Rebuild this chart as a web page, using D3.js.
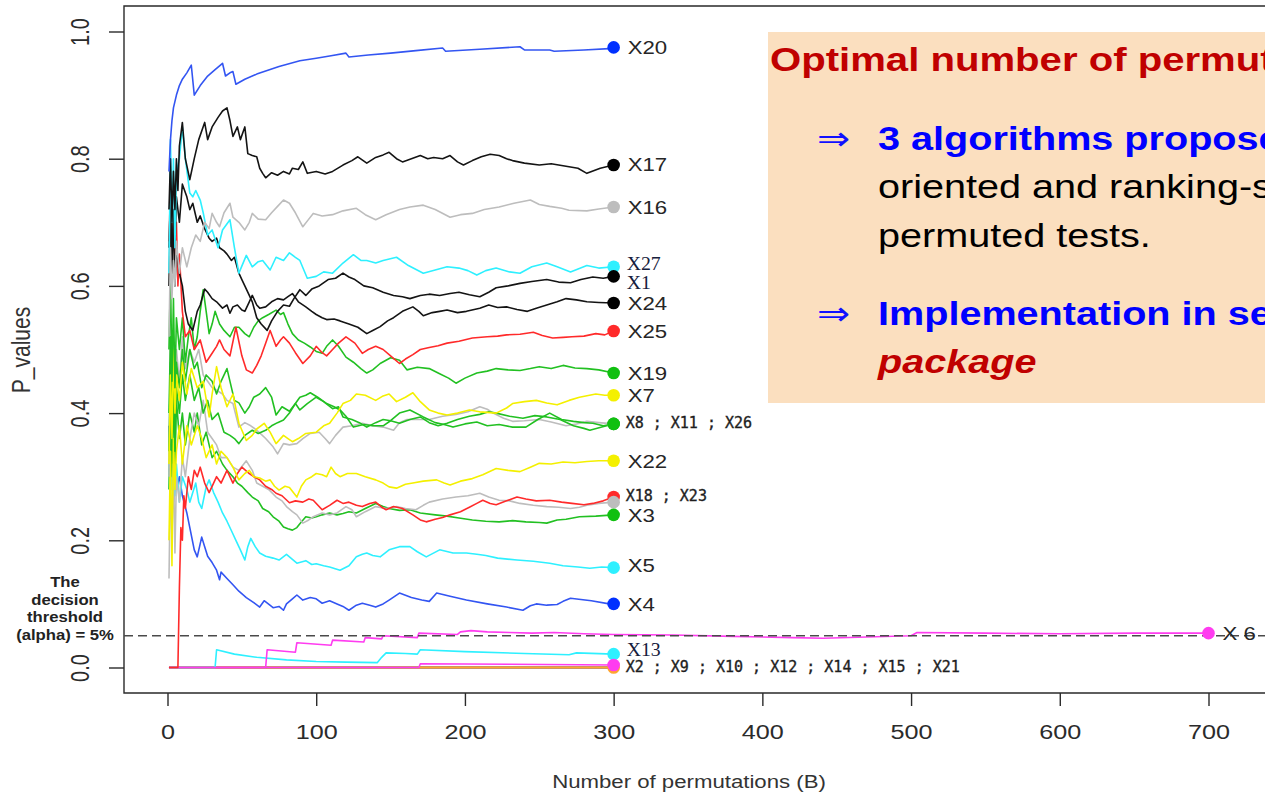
<!doctype html>
<html>
<head>
<meta charset="utf-8">
<script src="https://cdn.jsdelivr.net/npm/d3@7"></script>
<style>
body { margin: 0; background: #fff; overflow: hidden; }
svg { display: block; }
text { font-family: "Liberation Sans", Arial, sans-serif; }
</style>
</head>
<body>
<svg id="chart" width="1265" height="794"></svg>
<script>
// axis ticks
var xTicks = [0, 100, 200, 300, 400, 500, 600, 700];
var yTicks = [0, 0.2, 0.4, 0.6, 0.8, 1.0];
var threshold = 0.05;

// p-value paths, [B, p]
var pX20 = [[1,0.78],[2,0.83],[3,0.86],[4,0.88],[6,0.90],[8,0.915],[10,0.925],[13,0.935],[16,0.947],[18,0.90],[22,0.915],[27,0.93],[32,0.94],[37,0.95],[39,0.93],[42,0.935],[44,0.937],[46,0.917],[52,0.925],[60,0.933],[66,0.938],[75,0.945],[89,0.954],[100,0.958],[110,0.962],[120,0.966],[122,0.96],[135,0.963],[150,0.966],[167,0.970],[185,0.974],[187,0.969],[210,0.972],[237,0.976],[240,0.971],[257,0.971],[260,0.969],[280,0.971],[297,0.973],[300,0.975]];
var pX17 = [[1,0.72],[2,0.80],[3,0.70],[4,0.78],[5,0.72],[6,0.80],[7,0.75],[8,0.82],[10,0.857],[12,0.80],[15,0.767],[18,0.80],[21,0.83],[25,0.857],[27,0.83],[30,0.85],[34,0.865],[37,0.875],[40,0.88],[42,0.86],[44,0.835],[47,0.85],[49,0.83],[52,0.85],[54,0.808],[57,0.805],[60,0.803],[62,0.785],[64,0.777],[66,0.77],[70,0.778],[74,0.774],[78,0.78],[82,0.776],[84,0.785],[88,0.783],[91,0.795],[94,0.777],[100,0.78],[106,0.776],[111,0.78],[118,0.79],[124,0.797],[128,0.803],[134,0.793],[140,0.802],[145,0.806],[149,0.81],[154,0.80],[158,0.795],[164,0.80],[170,0.805],[175,0.80],[179,0.802],[185,0.80],[190,0.805],[195,0.795],[199,0.79],[205,0.797],[211,0.803],[217,0.807],[223,0.805],[228,0.80],[232,0.797],[240,0.793],[250,0.79],[258,0.792],[268,0.788],[276,0.785],[282,0.777],[291,0.785],[300,0.79]];
var pX16 = [[1,0.52],[2,0.66],[3,0.58],[4,0.64],[5,0.60],[6,0.67],[8,0.62],[10,0.66],[13,0.63],[16,0.66],[19,0.68],[22,0.67],[25,0.70],[28,0.69],[30,0.714],[33,0.70],[35,0.693],[38,0.715],[42,0.73],[44,0.708],[48,0.70],[52,0.688],[55,0.70],[57,0.714],[61,0.705],[66,0.704],[70,0.715],[74,0.725],[78,0.735],[82,0.73],[86,0.715],[91,0.693],[95,0.705],[98,0.714],[104,0.71],[111,0.712],[118,0.718],[127,0.722],[133,0.712],[140,0.704],[147,0.712],[156,0.72],[163,0.724],[172,0.727],[180,0.72],[190,0.708],[197,0.712],[205,0.714],[213,0.72],[223,0.724],[233,0.73],[244,0.735],[250,0.728],[257,0.725],[265,0.722],[270,0.719],[282,0.718],[290,0.721],[300,0.724]];
var pX27 = [[1,0.62],[2,0.83],[3,0.70],[4,0.80],[5,0.66],[6,0.78],[8,0.80],[10,0.85],[12,0.80],[15,0.746],[17,0.74],[19,0.75],[22,0.735],[24,0.715],[27,0.68],[30,0.688],[34,0.66],[37,0.688],[42,0.704],[45,0.66],[48,0.62],[53,0.648],[57,0.63],[61,0.638],[64,0.64],[69,0.625],[73,0.645],[78,0.64],[82,0.652],[86,0.645],[89,0.64],[94,0.612],[100,0.615],[105,0.622],[111,0.62],[118,0.636],[125,0.649],[130,0.64],[134,0.64],[140,0.636],[145,0.64],[154,0.645],[162,0.632],[172,0.62],[180,0.625],[188,0.63],[196,0.628],[202,0.624],[208,0.617],[214,0.624],[221,0.628],[230,0.622],[237,0.62],[245,0.63],[255,0.636],[262,0.63],[271,0.622],[282,0.632],[290,0.628],[300,0.63]];
var pX1 = [[1,0.66],[2,0.74],[3,0.62],[4,0.72],[5,0.66],[6,0.74],[8,0.70],[10,0.76],[13,0.74],[15,0.72],[17,0.73],[20,0.70],[22,0.71],[25,0.69],[28,0.675],[30,0.67],[33,0.675],[35,0.66],[38,0.655],[40,0.65],[43,0.64],[45,0.645],[48,0.62],[50,0.61],[52,0.60],[55,0.585],[57,0.575],[60,0.55],[63,0.54],[67,0.53],[70,0.545],[74,0.56],[78,0.57],[82,0.568],[85,0.58],[89,0.594],[93,0.585],[97,0.595],[102,0.60],[108,0.61],[113,0.612],[118,0.62],[122,0.614],[126,0.61],[132,0.60],[138,0.597],[145,0.59],[152,0.585],[158,0.583],[163,0.58],[170,0.585],[176,0.587],[183,0.585],[190,0.588],[196,0.59],[203,0.586],[210,0.583],[216,0.59],[221,0.597],[229,0.60],[237,0.604],[245,0.607],[255,0.61],[263,0.606],[271,0.605],[278,0.61],[286,0.614],[293,0.612],[300,0.615]];
var pX24 = [[1,0.60],[2,0.72],[3,0.64],[4,0.70],[5,0.60],[6,0.66],[8,0.62],[10,0.60],[12,0.56],[14,0.54],[17,0.53],[20,0.56],[22,0.57],[25,0.595],[27,0.59],[30,0.58],[33,0.575],[37,0.565],[40,0.57],[42,0.557],[44,0.567],[47,0.57],[50,0.562],[52,0.56],[55,0.575],[57,0.585],[60,0.57],[62,0.565],[66,0.567],[70,0.575],[74,0.58],[78,0.578],[81,0.583],[84,0.588],[88,0.575],[93,0.567],[97,0.56],[100,0.555],[104,0.55],[107,0.547],[112,0.548],[116,0.545],[122,0.54],[128,0.535],[134,0.525],[138,0.53],[143,0.536],[148,0.545],[152,0.55],[158,0.56],[165,0.567],[169,0.56],[172,0.553],[178,0.558],[183,0.56],[188,0.562],[195,0.558],[201,0.56],[210,0.565],[216,0.57],[222,0.566],[228,0.567],[235,0.563],[242,0.56],[248,0.565],[255,0.57],[262,0.575],[268,0.58],[275,0.578],[282,0.575],[290,0.574],[300,0.573]];
var pX25 = [[1,0.67],[2,0.75],[3,0.62],[4,0.72],[5,0.64],[6,0.70],[7,0.60],[8,0.65],[10,0.56],[12,0.52],[15,0.53],[18,0.50],[22,0.515],[26,0.48],[30,0.494],[33,0.505],[35,0.515],[38,0.50],[42,0.49],[46,0.535],[50,0.49],[53,0.468],[57,0.463],[60,0.475],[63,0.49],[66,0.51],[69,0.53],[73,0.505],[76,0.515],[78,0.52],[82,0.51],[86,0.495],[91,0.478],[96,0.49],[100,0.505],[104,0.495],[107,0.49],[111,0.50],[115,0.51],[120,0.52],[126,0.51],[131,0.494],[135,0.50],[140,0.505],[145,0.50],[150,0.49],[156,0.478],[160,0.485],[165,0.492],[170,0.50],[176,0.503],[182,0.506],[188,0.51],[196,0.513],[205,0.518],[215,0.52],[222,0.521],[228,0.523],[237,0.524],[246,0.527],[252,0.522],[259,0.518],[266,0.519],[272,0.52],[280,0.521],[288,0.525],[294,0.523],[300,0.529]];
var pX19 = [[1,0.50],[2,0.62],[3,0.45],[4,0.58],[5,0.44],[6,0.55],[8,0.50],[10,0.55],[12,0.48],[14,0.52],[16,0.55],[18,0.50],[20,0.52],[22,0.56],[24,0.594],[26,0.56],[28,0.525],[30,0.54],[32,0.56],[35,0.54],[38,0.53],[42,0.52],[45,0.535],[48,0.535],[52,0.525],[55,0.52],[58,0.535],[61,0.545],[64,0.55],[68,0.555],[73,0.562],[76,0.555],[78,0.558],[81,0.54],[84,0.525],[88,0.515],[92,0.51],[96,0.504],[100,0.497],[104,0.494],[107,0.505],[111,0.515],[115,0.505],[120,0.488],[125,0.48],[130,0.47],[134,0.463],[138,0.468],[143,0.478],[150,0.487],[156,0.483],[161,0.468],[168,0.472],[176,0.47],[183,0.462],[189,0.455],[194,0.447],[200,0.455],[208,0.463],[215,0.466],[221,0.47],[229,0.468],[237,0.467],[244,0.47],[250,0.473],[258,0.47],[266,0.475],[274,0.471],[282,0.47],[290,0.468],[300,0.463]];
var pX7 = [[1,0.32],[2,0.46],[3,0.36],[4,0.50],[5,0.40],[6,0.46],[8,0.42],[10,0.48],[13,0.43],[16,0.47],[20,0.44],[24,0.45],[28,0.394],[30,0.43],[33,0.473],[36,0.44],[40,0.41],[44,0.43],[48,0.384],[53,0.357],[57,0.365],[60,0.375],[65,0.384],[69,0.37],[73,0.352],[78,0.365],[81,0.36],[84,0.355],[88,0.36],[93,0.368],[100,0.37],[105,0.38],[109,0.384],[114,0.40],[118,0.415],[123,0.42],[127,0.43],[133,0.428],[140,0.42],[145,0.427],[149,0.43],[154,0.418],[160,0.425],[165,0.432],[170,0.418],[176,0.405],[182,0.40],[188,0.397],[195,0.40],[203,0.405],[210,0.402],[221,0.40],[228,0.408],[232,0.415],[240,0.418],[248,0.42],[255,0.416],[262,0.413],[270,0.42],[277,0.425],[288,0.43],[294,0.428],[300,0.428]];
var pX11 = [[1,0.40],[2,0.52],[3,0.36],[4,0.50],[5,0.40],[6,0.48],[8,0.44],[10,0.50],[12,0.45],[15,0.50],[18,0.47],[20,0.48],[23,0.44],[26,0.46],[30,0.45],[33,0.43],[36,0.45],[40,0.47],[43,0.44],[45,0.42],[48,0.416],[52,0.40],[55,0.41],[58,0.425],[62,0.43],[66,0.44],[70,0.425],[73,0.397],[77,0.41],[82,0.403],[86,0.415],[89,0.405],[94,0.415],[100,0.425],[105,0.418],[111,0.407],[115,0.41],[118,0.394],[124,0.39],[129,0.385],[134,0.378],[140,0.385],[145,0.39],[150,0.388],[156,0.384],[163,0.39],[170,0.394],[176,0.385],[182,0.38],[188,0.384],[195,0.39],[203,0.395],[210,0.398],[216,0.402],[221,0.40],[230,0.395],[239,0.392],[247,0.396],[255,0.394],[264,0.39],[273,0.38],[280,0.376],[284,0.373],[292,0.378],[300,0.383]];
var pX8 = [[1,0.34],[2,0.48],[3,0.38],[4,0.46],[5,0.34],[6,0.44],[8,0.40],[10,0.46],[12,0.42],[15,0.46],[18,0.42],[21,0.44],[24,0.40],[27,0.42],[30,0.39],[34,0.40],[38,0.37],[42,0.365],[45,0.36],[48,0.352],[52,0.365],[57,0.373],[61,0.368],[66,0.373],[70,0.38],[74,0.385],[78,0.389],[82,0.40],[86,0.415],[89,0.425],[93,0.428],[96,0.432],[101,0.425],[107,0.415],[112,0.41],[116,0.405],[120,0.395],[125,0.378],[132,0.382],[138,0.38],[145,0.38],[150,0.388],[156,0.40],[163,0.405],[172,0.394],[180,0.385],[186,0.382],[192,0.378],[200,0.383],[208,0.386],[215,0.38],[223,0.382],[232,0.378],[241,0.378],[249,0.39],[257,0.40],[265,0.39],[273,0.387],[280,0.385],[286,0.384],[293,0.38],[300,0.383]];
var pX26 = [[1,0.30],[2,0.55],[3,0.42],[4,0.52],[5,0.38],[6,0.50],[8,0.45],[10,0.52],[12,0.47],[15,0.50],[18,0.48],[21,0.50],[24,0.46],[27,0.45],[30,0.44],[33,0.436],[37,0.43],[40,0.42],[44,0.415],[48,0.378],[52,0.385],[56,0.38],[59,0.375],[62,0.369],[66,0.36],[71,0.347],[74,0.336],[78,0.352],[82,0.35],[87,0.352],[91,0.36],[96,0.368],[102,0.37],[106,0.36],[109,0.352],[113,0.365],[118,0.378],[124,0.38],[131,0.384],[138,0.38],[145,0.378],[152,0.373],[156,0.385],[161,0.39],[168,0.39],[176,0.39],[185,0.395],[194,0.398],[202,0.402],[210,0.41],[215,0.406],[219,0.40],[226,0.392],[232,0.387],[240,0.388],[250,0.39],[258,0.386],[268,0.38],[275,0.383],[282,0.387],[290,0.385],[300,0.383]];
var pX22 = [[1,0.20],[2,0.34],[3,0.16],[4,0.36],[5,0.28],[6,0.34],[8,0.38],[10,0.32],[13,0.38],[16,0.35],[20,0.38],[23,0.36],[26,0.33],[30,0.35],[33,0.32],[36,0.34],[40,0.33],[44,0.315],[48,0.295],[52,0.305],[55,0.31],[58,0.30],[62,0.298],[66,0.293],[69,0.295],[72,0.285],[75,0.279],[79,0.285],[82,0.283],[87,0.268],[90,0.285],[93,0.295],[97,0.30],[100,0.305],[104,0.303],[107,0.30],[110,0.315],[113,0.305],[116,0.30],[121,0.305],[127,0.305],[133,0.30],[140,0.295],[145,0.29],[149,0.284],[154,0.282],[160,0.288],[165,0.29],[172,0.293],[181,0.295],[186,0.29],[190,0.287],[197,0.293],[205,0.297],[212,0.303],[221,0.313],[229,0.31],[237,0.308],[244,0.315],[250,0.321],[258,0.32],[266,0.323],[274,0.322],[282,0.324],[290,0.325],[300,0.325]];
var pX18 = [[1,0],[7,0],[8,0.125],[9,0.22],[10,0.20],[11,0.27],[12,0.25],[14,0.30],[16,0.28],[18,0.31],[20,0.30],[22,0.315],[25,0.29],[28,0.275],[31,0.29],[33,0.30],[36,0.29],[40,0.31],[44,0.29],[47,0.305],[50,0.315],[55,0.305],[58,0.30],[62,0.295],[66,0.285],[70,0.28],[73,0.274],[77,0.27],[82,0.259],[86,0.262],[91,0.26],[95,0.265],[98,0.263],[104,0.248],[109,0.255],[114,0.263],[118,0.258],[122,0.26],[127,0.255],[131,0.253],[136,0.258],[140,0.26],[144,0.252],[147,0.248],[152,0.253],[158,0.25],[165,0.24],[170,0.232],[174,0.229],[180,0.233],[185,0.236],[190,0.24],[197,0.245],[203,0.252],[208,0.258],[212,0.263],[217,0.258],[221,0.256],[228,0.262],[235,0.268],[241,0.265],[248,0.262],[257,0.263],[265,0.26],[272,0.258],[280,0.256],[286,0.258],[293,0.262],[300,0.268]];
var pX23 = [[1,0.14],[2,0.30],[3,0.20],[4,0.32],[5,0.18],[6,0.30],[8,0.26],[10,0.33],[12,0.30],[15,0.36],[18,0.40],[21,0.38],[24,0.42],[27,0.37],[30,0.36],[33,0.35],[36,0.33],[40,0.33],[44,0.315],[48,0.31],[53,0.325],[57,0.31],[60,0.29],[64,0.285],[68,0.28],[73,0.268],[77,0.262],[80,0.253],[84,0.245],[87,0.24],[91,0.227],[95,0.232],[98,0.237],[104,0.243],[109,0.24],[114,0.243],[120,0.253],[124,0.248],[127,0.237],[133,0.245],[140,0.253],[147,0.25],[154,0.253],[160,0.25],[167,0.248],[172,0.255],[176,0.26],[185,0.265],[194,0.268],[202,0.27],[210,0.274],[216,0.268],[223,0.263],[230,0.262],[237,0.258],[246,0.255],[255,0.253],[263,0.252],[271,0.25],[277,0.252],[282,0.255],[290,0.258],[300,0.26]];
var pX3 = [[1,0.28],[2,0.42],[3,0.30],[4,0.44],[5,0.32],[6,0.42],[8,0.36],[10,0.40],[12,0.35],[15,0.40],[18,0.37],[20,0.40],[23,0.35],[26,0.37],[30,0.33],[33,0.34],[37,0.32],[40,0.31],[44,0.30],[47,0.29],[50,0.285],[54,0.275],[57,0.268],[61,0.262],[64,0.25],[68,0.245],[71,0.237],[75,0.23],[78,0.221],[81,0.218],[84,0.216],[87,0.22],[89,0.226],[93,0.237],[97,0.235],[100,0.237],[104,0.24],[109,0.243],[114,0.24],[118,0.242],[122,0.245],[127,0.243],[133,0.25],[140,0.258],[145,0.253],[149,0.25],[156,0.247],[163,0.248],[170,0.243],[180,0.24],[188,0.238],[196,0.235],[205,0.232],[214,0.23],[223,0.229],[232,0.231],[241,0.229],[250,0.228],[255,0.227],[262,0.232],[268,0.233],[277,0.237],[288,0.238],[300,0.24]];
var pX5 = [[1,0.30],[2,0.45],[3,0.28],[4,0.36],[5,0.27],[6,0.32],[8,0.26],[10,0.30],[13,0.28],[15,0.26],[17,0.275],[19,0.29],[21,0.26],[23,0.25],[26,0.284],[28,0.295],[31,0.275],[34,0.26],[37,0.243],[40,0.23],[43,0.215],[46,0.20],[49,0.185],[52,0.169],[54,0.19],[56,0.203],[59,0.19],[62,0.18],[66,0.175],[71,0.172],[75,0.169],[80,0.178],[84,0.17],[87,0.164],[93,0.168],[97,0.162],[100,0.163],[105,0.16],[109,0.158],[116,0.153],[122,0.16],[127,0.174],[131,0.178],[134,0.18],[138,0.176],[143,0.174],[149,0.185],[156,0.19],[163,0.19],[168,0.182],[174,0.174],[183,0.185],[192,0.18],[201,0.18],[208,0.178],[214,0.176],[222,0.172],[235,0.169],[246,0.167],[257,0.164],[266,0.16],[276,0.158],[284,0.156],[292,0.158],[300,0.157]];
var pX4 = [[1,0.38],[2,0.30],[3,0.34],[4,0.26],[5,0.32],[6,0.28],[8,0.30],[10,0.27],[13,0.243],[15,0.22],[18,0.185],[20,0.174],[23,0.205],[25,0.19],[27,0.175],[30,0.165],[33,0.153],[35,0.138],[36,0.15],[40,0.14],[44,0.13],[48,0.12],[53,0.11],[58,0.102],[62,0.095],[65,0.105],[71,0.094],[75,0.096],[78,0.09],[80,0.10],[84,0.108],[87,0.114],[91,0.106],[96,0.11],[100,0.108],[104,0.101],[109,0.105],[114,0.10],[118,0.096],[122,0.09],[127,0.098],[131,0.101],[136,0.098],[140,0.095],[145,0.10],[149,0.106],[156,0.117],[164,0.11],[171,0.106],[176,0.104],[181,0.117],[190,0.112],[201,0.106],[215,0.10],[228,0.095],[239,0.09],[244,0.097],[248,0.10],[255,0.098],[262,0.099],[266,0.104],[271,0.109],[285,0.105],[297,0.10],[300,0.10]];
var pX6 = [[1,0],[66,0],[67,0.028],[86,0.024],[87,0.039],[110,0.035],[111,0.043],[132,0.04],[133,0.047],[144,0.045],[145,0.05],[168,0.047],[169,0.054],[195,0.052],[197,0.056],[204,0.058],[215,0.056],[230,0.055],[245,0.054],[260,0.055],[280,0.053],[300,0.052],[340,0.051],[380,0.049],[420,0.047],[441,0.046],[470,0.048],[500,0.05],[504,0.055],[550,0.054],[600,0.053],[650,0.054],[700,0.054]];
var pX13 = [[1,0],[32,0],[33,0.028],[45,0.021],[60,0.016],[80,0.012],[100,0.0095],[120,0.0085],[141,0.0076],[144,0.016],[147,0.023],[160,0.022],[168,0.021],[170,0.028],[200,0.025],[240,0.022],[270,0.02],[275,0.023],[300,0.021]];
var pX14 = [[1,0],[169,0],[170,0.006],[230,0.005],[300,0.004]];
var pX21 = [[1,0],[300,0]];
var pX2 = [[1,0],[300,0]];
var pX9 = [[1,0],[300,0]];
var pX10 = [[1,0],[300,0]];
var pX12 = [[1,0],[300,0]];
var pX15 = [[1,0],[300,0]];

// end labels, keyed by the series whose last point they sit at
var labelKeys = ["X20", "X17", "X16", "X27", "X1", "X24", "X25", "X19", "X7", "X8", "X22", "X18", "X3", "X5", "X4", "X13", "X14", "X6"];
var labelTexts = ["X20", "X17", "X16", "X27", "X1", "X24", "X25", "X19", "X7", "X8 ; X11 ; X26", "X22", "X18 ; X23", "X3", "X5", "X4", "X13", "X2 ; X9 ; X10 ; X12 ; X14 ; X15 ; X21", "X 6"];

var seriesData = {
  X1: pX1, X2: pX2, X3: pX3, X4: pX4, X5: pX5, X6: pX6, X7: pX7, X8: pX8, X9: pX9,
  X10: pX10, X11: pX11, X12: pX12, X13: pX13, X14: pX14, X15: pX15, X16: pX16,
  X17: pX17, X18: pX18, X19: pX19, X20: pX20, X21: pX21, X22: pX22, X23: pX23,
  X24: pX24, X25: pX25, X26: pX26, X27: pX27
};

// styling
var pal = {
  black: "#141414", red: "#FF2a2a", green: "#22C022", blue: "#3355F2",
  cyan: "#2EF0FF", magenta: "#FF3CF0", yellow: "#F4F000", gray: "#BDBDBD", orange: "#FFA530"
};
var colors = {
  X1: pal.black, X2: pal.red, X3: pal.green, X4: pal.blue, X5: pal.cyan, X6: pal.magenta,
  X7: pal.yellow, X8: pal.green, X9: pal.black, X10: pal.red, X11: pal.green, X12: pal.blue,
  X13: pal.cyan, X14: pal.magenta, X15: pal.yellow, X16: pal.gray, X17: pal.black, X18: pal.red,
  X19: pal.green, X20: pal.blue, X21: pal.orange, X22: pal.yellow, X23: pal.gray, X24: pal.black,
  X25: pal.red, X26: pal.gray, X27: pal.cyan
};
var dotColors = { X20: "#0030FF", X4: "#0030FF", X17: "#000", X1: "#000", X24: "#000", X19: "#10C010", X8: "#10C010", X3: "#10C010" };
var drawOrder = ["X2", "X9", "X10", "X12", "X15", "X21", "X14", "X13", "X6", "X4", "X5", "X3", "X23", "X18",
  "X22", "X26", "X8", "X11", "X7", "X19", "X25", "X24", "X1", "X27", "X16", "X17", "X20"];
var dotOrder = ["X20", "X17", "X16", "X27", "X1", "X24", "X25", "X19", "X7", "X26", "X11", "X8", "X22",
  "X18", "X23", "X3", "X5", "X4", "X13", "X21", "X14", "X6"];
var labelDy = { X27: -3, X1: 6, X17: -1, X8: -1, X18: -1.5, X3: 0.5, X5: -2, X13: -4, X14: 1.5 };
var monoLabels = ["X8", "X18", "X14"];
var serifLabels = ["X27", "X1", "X13"];
var sx = 1.2; // the picture is stretched sideways

var svg = d3.select("#chart");
var x = d3.scaleLinear().domain([0, 700]).range([167.5, 1208.5]);
var y = d3.scaleLinear().domain([0, 1]).range([667.5, 31.5]);

// plot frame (right side runs off the picture)
svg.append("path")
  .attr("d", "M1270,6H124V693H1270")
  .attr("fill", "none").attr("stroke", "#2a2a2a").attr("stroke-width", 1.4);

var xAxis = svg.append("g").attr("transform", "translate(0,693)")
  .call(d3.axisBottom(x).tickValues(xTicks).tickSize(13).tickFormat(d3.format("d")));
xAxis.select(".domain").remove();
xAxis.selectAll("line").attr("stroke", "#2a2a2a").attr("stroke-width", 1.4);
xAxis.selectAll("text")
  .attr("y", null).attr("dy", null)
  .attr("transform", "translate(0,46) scale(" + sx + ",1)")
  .attr("font-size", 21).attr("fill", "#2b2b2b");

var yAxis = svg.append("g").attr("transform", "translate(124,0)")
  .call(d3.axisLeft(y).tickValues(yTicks).tickSize(15).tickFormat(d3.format(".1f")));
yAxis.select(".domain").remove();
yAxis.selectAll("line").attr("stroke", "#2a2a2a").attr("stroke-width", 1.4);
yAxis.selectAll("text")
  .attr("x", null).attr("dy", null).attr("text-anchor", "middle")
  .attr("transform", "translate(-35,0) scale(1.25,1) rotate(-90)")
  .attr("font-size", 20).attr("fill", "#2b2b2b");

svg.append("text")
  .attr("transform", "translate(689,788) scale(" + sx + ",1)")
  .attr("text-anchor", "middle").attr("font-size", 18.5).attr("fill", "#333")
  .text("Number of permutations (B)");

svg.append("text")
  .attr("transform", "translate(30,350) scale(" + sx + ",1) rotate(-90)")
  .attr("text-anchor", "middle").attr("font-size", 21).attr("fill", "#333")
  .text("P_values");

// threshold note
["The", "decision", "threshold", "(alpha) = 5%"].forEach(function(t, i) {
  svg.append("text")
    .attr("transform", "translate(65," + (587 + i * 17.7) + ") scale(1.15,1)")
    .attr("text-anchor", "middle").attr("font-size", 14.5).attr("font-weight", "bold").attr("fill", "#222")
    .text(t);
});

// lines
var line = d3.line().x(function(d) { return x(d[0]); }).y(function(d) { return y(d[1]); });
svg.append("g").selectAll("path")
  .data(drawOrder)
  .enter()
  .append("path")
    .attr("d", function(k) { return line(seriesData[k]); })
    .attr("fill", "none")
    .attr("stroke", function(k) { return colors[k]; })
    .attr("stroke-width", 1.6)
    .attr("stroke-linejoin", "round");

// threshold line
svg.append("line")
  .attr("x1", 124).attr("x2", 1270)
  .attr("y1", y(threshold)).attr("y2", y(threshold))
  .attr("stroke", "#4a4a4a").attr("stroke-width", 1.5).attr("stroke-dasharray", "9,5");

// end dots
var lastOf = function(k) { return seriesData[k][seriesData[k].length - 1]; };
svg.append("g").selectAll("circle")
  .data(dotOrder)
  .enter()
  .append("circle")
    .attr("cx", function(k) { return x(lastOf(k)[0]); })
    .attr("cy", function(k) { return y(lastOf(k)[1]); })
    .attr("r", 6.3)
    .attr("fill", function(k) { return dotColors[k] || colors[k]; });

// end labels
labelKeys.forEach(function(k, i) {
  var p = lastOf(k);
  var cy = y(p[1]) + (labelDy[k] || 0);
  var t = svg.append("text").text(labelTexts[i]);
  if (monoLabels.indexOf(k) >= 0) {
    t.attr("font-size", 15).style("font-family", "'DejaVu Sans Mono', monospace")
      .attr("fill", "#1e1e1e").attr("stroke", "#1e1e1e").attr("stroke-width", 0.35)
      .attr("transform", "translate(" + (x(p[0]) + 12) + "," + (cy + 5.5) + ")");
  } else if (serifLabels.indexOf(k) >= 0) {
    t.attr("font-size", 18).style("font-family", "'Liberation Serif', serif")
      .attr("fill", "#16203c")
      .attr("transform", "translate(" + (x(p[0]) + 13) + "," + (cy + 6.3) + ") scale(1.1,1)");
  } else {
    t.attr("font-size", 18.5).attr("fill", "#262626")
      .attr("transform", "translate(" + (x(p[0]) + 14) + "," + (cy + 6.7) + ") scale(" + sx + ",1)");
  }
});

// note box
svg.append("rect")
  .attr("x", 768).attr("y", 32).attr("width", 520).attr("height", 371)
  .attr("fill", "#FBDFBF");

var note = svg.append("g");
note.append("text")
  .attr("transform", "translate(770,71) scale(1.18,1)")
  .attr("font-size", 34).attr("font-weight", "bold").attr("fill", "#C00000")
  .text("Optimal number of permutations");

[150, 325].forEach(function(b) {
  note.append("text")
    .attr("transform", "translate(817," + b + ") scale(" + sx + ",1)")
    .attr("font-size", 33).style("font-family", "'DejaVu Sans', sans-serif").attr("fill", "#1010FF")
    .text("\u21D2");
});

note.append("text")
  .attr("transform", "translate(878,150) scale(" + sx + ",1)")
  .attr("font-size", 33).attr("font-weight", "bold").attr("fill", "#0000FF")
  .text("3 algorithms proposed for");
note.append("text")
  .attr("transform", "translate(878,198) scale(" + sx + ",1)")
  .attr("font-size", 33).attr("fill", "#000")
  .text("oriented and ranking-stable");
note.append("text")
  .attr("transform", "translate(878,247) scale(" + sx + ",1)")
  .attr("font-size", 33).attr("fill", "#000")
  .text("permuted tests.");
note.append("text")
  .attr("transform", "translate(878,325) scale(" + sx + ",1)")
  .attr("font-size", 33).attr("font-weight", "bold").attr("fill", "#0000FF")
  .text("Implementation in several");
note.append("text")
  .attr("transform", "translate(878,373) scale(" + sx + ",1)")
  .attr("font-size", 33).attr("font-weight", "bold").attr("font-style", "italic").attr("fill", "#C00000")
  .text("package");
</script>
</body>
</html>
